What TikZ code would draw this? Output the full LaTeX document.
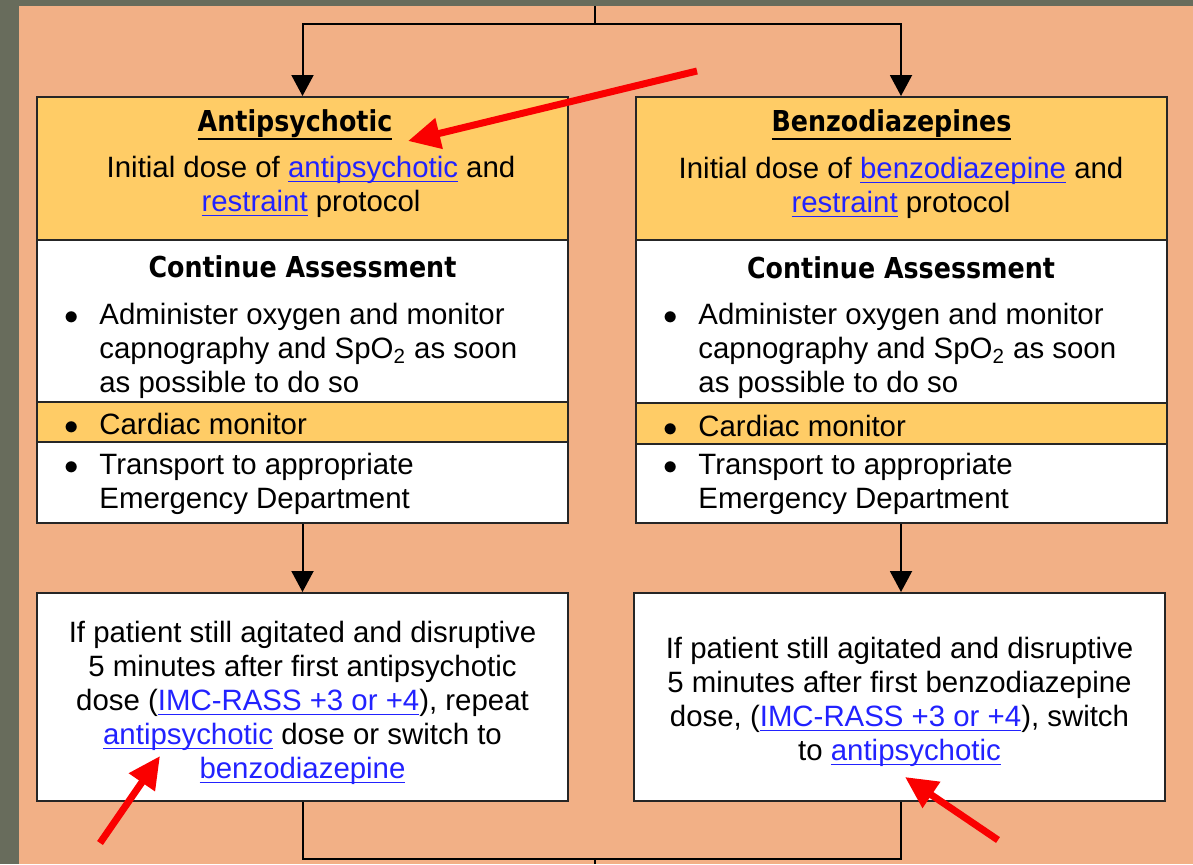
\documentclass[tikz,border=0pt]{standalone}
\usepackage{fontspec}
\setmainfont{Liberation Sans}
\newfontfamily\headfont{DejaVu Sans}[FakeStretch=0.88]
\usepackage{xcolor}
\usetikzlibrary{arrows.meta}

\definecolor{peach}{RGB}{242,176,134}
\definecolor{dose}{RGB}{255,204,102}
\definecolor{slate}{RGB}{104,108,92}
\definecolor{linkblue}{RGB}{34,34,255}
\definecolor{note}{RGB}{250,0,0}

\newlength\ulw
\newcommand{\ulbar}[3]{\settowidth\ulw{#3}\rlap{\rule[#1]{\ulw}{#2}}#3}
\newcommand{\lnk}[1]{\textcolor{linkblue}{\ulbar{-2.3pt}{0.6pt}{#1}}}
\newcommand{\hd}[1]{\ulbar{-4pt}{1.2pt}{#1}}
\newcommand{\bul}{\llap{$\bullet$\hskip 10.5pt}}

\tikzset{
  box/.style={draw=black!85, line width=1pt, minimum width=265.5pt, inner sep=0pt},
  dosebox/.style={box, fill=dose},
  plainbox/.style={box, fill=white},
  txt/.style={font=\fontsize{14.7}{17}\selectfont, inner sep=0pt},
  hdtxt/.style={font=\headfont\bfseries\fontsize{14.4}{17}\selectfont, inner sep=0pt},
  flow/.style={line width=1pt, -{Triangle[length=10.5pt,width=11pt]}},
  pointer/.style={note, line width=3.5pt, -{Triangle[length=16pt,width=15pt]}},
}

\begin{document}
\begin{tikzpicture}[x=0.5pt,y=-0.5pt]
	\useasboundingbox (0,0) rectangle (1193,864);
	\fill[slate] (0,0) rectangle (1193,864);
	\fill[peach] (19,6) rectangle (1193,864);

	% antipsychotic column
	\node[dosebox, minimum height=71.5pt] (ahead) at (302.5,168.5) {};
	\node[plainbox, minimum height=81pt] (aassess) at (302.5,321) {};
	\node[dosebox, minimum height=20pt] (acardiac) at (302.5,422) {};
	\node[plainbox, minimum height=40.5pt] (atrans) at (302.5,482.5) {};
	\node[plainbox, minimum height=104pt] (arepeat) at (302.5,697) {};

	\node[hdtxt] (atitle) at (295,125) {\hd{Antipsychotic}};
	\node[txt, align=center] (adose) at (311,187) {Initial dose of \lnk{antipsychotic} and\\\lnk{restraint} protocol};
	\node[hdtxt] (aassesstitle) at (302.5,267) {Continue Assessment};
	\node[txt, anchor=west, align=left] (aoxy) at (99,351) {\bul Administer oxygen and monitor\\capnography and SpO\textsubscript{2} as soon\\as possible to do so};
	\node[txt, anchor=west] (amon) at (99,424) {\bul Cardiac monitor};
	\node[txt, anchor=west, align=left] (aed) at (99,484) {\bul Transport to appropriate\\Emergency Department};
	\node[txt, align=center] (arepeattxt) at (302.5,703)
		{If patient still agitated and disruptive\\5 minutes after first antipsychotic\\dose (\lnk{IMC-RASS +3 or +4}), repeat\\\lnk{antipsychotic} dose or switch to\\\lnk{benzodiazepine}};

	% benzodiazepine column
	\node[dosebox, minimum height=71.5pt] (bhead) at (901,168.5) {};
	\node[plainbox, minimum height=81.5pt] (bassess) at (901,321.5) {};
	\node[dosebox, minimum height=20.5pt] (bcardiac) at (901,423.5) {};
	\node[plainbox, minimum height=39.5pt] (btrans) at (901,483.5) {};
	\node[plainbox, minimum height=104pt] (bswitch) at (899.5,697) {};

	\node[hdtxt] (btitle) at (891.5,125) {\hd{Benzodiazepines}};
	\node[txt, align=center] (bdose) at (901,188) {Initial dose of \lnk{benzodiazepine} and\\\lnk{restraint} protocol};
	\node[hdtxt] (bassesstitle) at (901,268) {Continue Assessment};
	\node[txt, anchor=west, align=left] (boxy) at (698,351) {\bul Administer oxygen and monitor\\capnography and SpO\textsubscript{2} as soon\\as possible to do so};
	\node[txt, anchor=west] (bmon) at (698,426) {\bul Cardiac monitor};
	\node[txt, anchor=west, align=left] (bed) at (698,484) {\bul Transport to appropriate\\Emergency Department};
	\node[txt, align=center] (bswitchtxt) at (899.5,702)
		{If patient still agitated and disruptive\\5 minutes after first benzodiazepine\\dose, (\lnk{IMC-RASS +3 or +4}), switch\\to \lnk{antipsychotic}};

	% connectors
	\coordinate (entry) at (595,6);
	\coordinate (split) at (595,24);
	\coordinate (join) at (595,859);
	\coordinate (exit) at (595,864);
	\draw[line width=1pt] (entry) -- (split);
	\draw[flow] (split) -| (ahead.north);
	\draw[flow] (split) -| (bhead.north);
	\draw[flow] (atrans.south) -- (arepeat.north);
	\draw[flow] (btrans.south) -- (btrans.south |- bswitch.north);
	\draw[line width=1pt] (arepeat.south) |- (join);
	\draw[line width=1pt] (btrans.south |- bswitch.south) |- (join);
	\draw[line width=1pt] (join) -- (exit);

	% red pointers
	\coordinate (p1s) at (697,71);
	\coordinate (p1e) at (408,141);
	\coordinate (p2s) at (100,843);
	\coordinate (p2e) at (160,756);
	\coordinate (p3s) at (998,840);
	\coordinate (p3e) at (905,777);
	\draw[pointer] (p1s) -- (p1e);
	\draw[pointer] (p2s) -- (p2e);
	\draw[pointer] (p3s) -- (p3e);

\end{tikzpicture}
\end{document}
